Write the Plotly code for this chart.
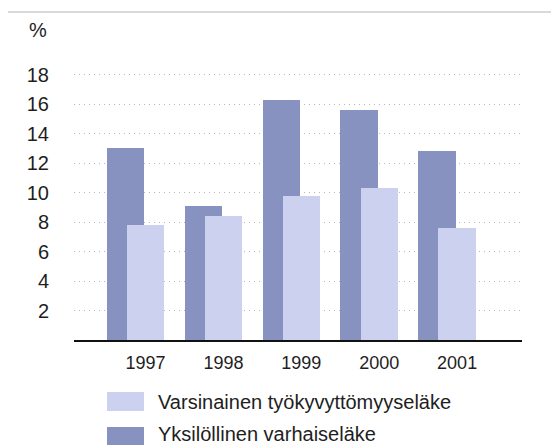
import plotly.graph_objects as go

years = ["1997", "1998", "1999", "2000", "2001"]
varsinainen = [7.8, 8.4, 9.8, 10.3, 7.6]          # light bars
yksilollinen = [13.0, 9.1, 16.3, 15.6, 12.8]       # dark bars
series_names = ["Varsinainen työkyvyttömyyseläke", "Yksilöllinen varhaiseläke"]
y_ticks = [2, 4, 6, 8, 10, 12, 14, 16, 18]

LIGHT = "#cdd1f0"
DARK = "#8892c0"
FONT = "Liberation Sans, Arial, sans-serif"
TXT = "#1e1e1e"

W, H = 551, 447
ML, MR, MT, MB = 74, 29, 60, 107
PW, PH = W - ML - MR, H - MT - MB

pos = list(range(len(years)))

fig = go.Figure()
fig.add_trace(go.Bar(x=pos, y=yksilollinen, name=series_names[1], marker_color=DARK,
                     marker_line_width=0, width=0.48, offset=-0.497, showlegend=False))
fig.add_trace(go.Bar(x=pos, y=varsinainen, name=series_names[0], marker_color=LIGHT,
                     marker_line_width=0, width=0.48, offset=-0.24, showlegend=False))


def px_x(px):
    return (px - ML) / PW


def px_y(py):
    return (H - MB - py) / PH


shapes = [
    dict(type="line", xref="paper", yref="paper", x0=px_x(8), x1=px_x(551), y0=px_y(12), y1=px_y(12),
         line=dict(color="#b4b4b4", width=1)),
    dict(type="rect", xref="paper", yref="paper", x0=px_x(107), x1=px_x(144), y0=px_y(392), y1=px_y(411),
         fillcolor=LIGHT, line_width=0),
    dict(type="rect", xref="paper", yref="paper", x0=px_x(107), x1=px_x(144), y0=px_y(427), y1=px_y(445),
         fillcolor=DARK, line_width=0),
]
annotations = [
    dict(text="%", xref="paper", yref="paper", x=px_x(49), y=px_y(30), xanchor="right", yanchor="middle",
         showarrow=False, font=dict(size=20, color=TXT, family=FONT)),
    dict(text=series_names[0], xref="paper", yref="paper", x=px_x(156), y=px_y(415), xanchor="left",
         yanchor="bottom", showarrow=False, font=dict(size=20, color=TXT, family=FONT)),
    dict(text=series_names[1], xref="paper", yref="paper", x=px_x(156), y=px_y(447), xanchor="left",
         yanchor="bottom", showarrow=False, font=dict(size=20, color=TXT, family=FONT)),
]

fig.update_layout(
    width=W, height=H, margin=dict(l=ML, r=MR, t=MT, b=MB, autoexpand=False),
    paper_bgcolor="white", plot_bgcolor="white",
    barmode="overlay", bargap=0,
    shapes=shapes, annotations=annotations,
    font=dict(family=FONT, color=TXT),
    xaxis=dict(range=[-0.918, 4.833], tickvals=pos, ticktext=years, showgrid=False, zeroline=False,
               showline=True, linecolor="#111111", linewidth=2, ticks="",
               tickfont=dict(size=18, color=TXT, family=FONT), ticklabelstandoff=5),
    yaxis=dict(range=[0, 19], tickvals=y_ticks, showgrid=True, gridcolor="#b8b8b8", griddash="1px,4px",
               gridwidth=1, zeroline=False, showline=False, ticks="",
               tickfont=dict(size=20, color=TXT, family=FONT), ticklabelstandoff=24),
)

fig.write_html("out.html", config={"displayModeBar": False},
               post_script="document.body.style.margin='0';document.body.style.overflow='hidden';")
